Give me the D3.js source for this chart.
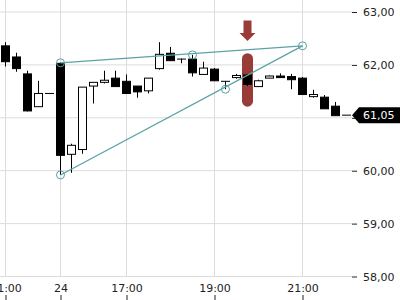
<!DOCTYPE html>
<html>
<head>
<meta charset="utf-8">
<script src="https://cdn.jsdelivr.net/npm/d3@7"></script>
<style>
  body { margin: 0; background: #fff; }
  svg { display: block; font-family: "DejaVu Sans", sans-serif; }
</style>
</head>
<body>
<div id="chart"></div>
<script>
// 15 minute candles, last hour of the 23rd then the session of the 24th
const opens  = [62.36, 62.15, 61.83, 61.21, 61.46, 62.03, 60.31, 60.40, 61.60, 61.67, 61.75, 61.69, 61.60, 61.51, 61.93, 62.22,
                62.11, 62.11, 61.82, 61.92, 61.69, 61.76, 61.81, 61.59, 61.75, 61.79, 61.78, 61.75, 61.40, 61.39, 61.22, 61.05];
const highs  = [62.43, 62.23, 61.89, 61.70, 61.46, 62.04, 60.51, 61.58, 61.67, 61.89, 61.89, 61.82, 61.60, 61.75, 62.43, 62.34,
                62.12, 62.19, 62.06, 61.94, 61.69, 61.83, 61.83, 61.72, 61.80, 61.84, 61.83, 61.77, 61.53, 61.43, 61.30, 61.05];
const lows   = [61.97, 61.87, 61.12, 61.21, 61.46, 59.92, 59.96, 60.32, 61.27, 61.65, 61.59, 61.46, 61.38, 61.46, 61.91, 62.08,
                62.03, 61.78, 61.82, 61.70, 61.54, 61.74, 61.60, 61.59, 61.75, 61.76, 61.54, 61.44, 61.38, 61.17, 61.04, 61.05];
const closes = [62.06, 61.93, 61.13, 61.46, 61.46, 60.29, 60.48, 61.58, 61.67, 61.71, 61.59, 61.46, 61.49, 61.75, 62.20, 62.08,
                62.10, 61.85, 61.94, 61.70, 61.69, 61.80, 61.63, 61.70, 61.79, 61.76, 61.72, 61.44, 61.44, 61.17, 61.04, 61.05];

const timeTicks  = [0, 5, 11, 19, 27];
const timeLabels = ["21:00", "24", "17:00", "19:00", "21:00"];
const priceTicks = [58, 59, 60, 61, 62, 63];
const lastPrice = 61.05;

// drawing tools: two trend lines and their anchor points (index, price)
const trendLines = [
  [[5, 62.04], [27, 62.36]],
  [[5, 59.92], [27, 62.36]]
];
const anchors = [[5, 62.04], [5, 59.92], [17, 62.19], [20, 61.54], [27, 62.36]];

// signal marker on one candle
const markerIdx = 22;
const markerRange = [62.22, 61.21];
const arrowRange = [62.84, 62.45];

const width = 400, height = 300;
const plotRight = 352, plotBottom = 277;

const svg = d3.select("#chart").append("svg")
    .attr("width", width)
    .attr("height", height);

const x = d3.scaleLinear().domain([0, 31]).range([5.5, 346.5]);
const y = d3.scaleLinear().domain([58, 63]).range([276.5, 12]);

const locale = d3.formatLocale({ decimal: ",", thousands: ".", grouping: [3], currency: ["", "€"] });
const fmt = locale.format(".2f");

// grid
svg.append("g").selectAll("line")
    .data(priceTicks)
    .join("line")
    .attr("x1", 0).attr("x2", plotRight)
    .attr("y1", d => y(d)).attr("y2", d => y(d))
    .attr("stroke", "#dcdcdc");

svg.append("g").selectAll("line")
    .data(timeTicks)
    .join("line")
    .attr("x1", d => x(d)).attr("x2", d => x(d))
    .attr("y1", 0).attr("y2", plotBottom)
    .attr("stroke", "#dcdcdc");

// signal marker (behind candles)
const mx = x(markerIdx);
svg.append("rect")
    .attr("x", mx - 5.5)
    .attr("y", y(markerRange[0]))
    .attr("width", 11)
    .attr("height", y(markerRange[1]) - y(markerRange[0]))
    .attr("rx", 5.5)
    .attr("fill", "#993b37");

const aTop = y(arrowRange[0]), aTip = y(arrowRange[1]);
svg.append("path")
    .attr("d", `M${mx - 4},${aTop} L${mx + 4},${aTop} L${mx + 4},${aTip - 8} L${mx + 8},${aTip - 8} L${mx},${aTip} L${mx - 8},${aTip - 8} L${mx - 4},${aTip - 8} Z`)
    .attr("fill", "#993b37");

// candles
const candles = svg.append("g").selectAll("g")
    .data(d3.range(opens.length))
    .join("g");

candles.append("line")
    .attr("x1", i => x(i)).attr("x2", i => x(i))
    .attr("y1", i => y(highs[i])).attr("y2", i => y(lows[i]))
    .attr("stroke", "#000");

candles.each(function (i) {
    const g = d3.select(this);
    const top = y(Math.max(opens[i], closes[i]));
    const bot = y(Math.min(opens[i], closes[i]));
    if (bot - top < 1) {
        g.append("line")
            .attr("x1", x(i) - 4.5).attr("x2", x(i) + 4.5)
            .attr("y1", top).attr("y2", top)
            .attr("stroke", "#000");
    } else {
        g.append("rect")
            .attr("x", x(i) - 4)
            .attr("y", top)
            .attr("width", 8)
            .attr("height", bot - top)
            .attr("fill", closes[i] < opens[i] ? "#000" : "#fff")
            .attr("stroke", "#000");
    }
});

// trend lines
svg.append("g").selectAll("line")
    .data(trendLines)
    .join("line")
    .attr("x1", d => x(d[0][0])).attr("y1", d => y(d[0][1]))
    .attr("x2", d => x(d[1][0])).attr("y2", d => y(d[1][1]))
    .attr("stroke", "#5ba2a6")
    .attr("stroke-width", 1.2);

svg.append("g").selectAll("circle")
    .data(anchors)
    .join("circle")
    .attr("cx", d => x(d[0]))
    .attr("cy", d => y(d[1]))
    .attr("r", 4)
    .attr("fill", "none")
    .attr("stroke", "#5ba2a6");

// price axis
const yAxis = d3.axisRight(y)
    .tickValues(priceTicks)
    .tickSize(5)
    .tickPadding(6)
    .tickFormat(fmt);

svg.append("g")
    .attr("transform", `translate(${plotRight},0)`)
    .call(yAxis)
    .call(g => g.select(".domain").remove())
    .call(g => g.selectAll("text").attr("font-size", 11).attr("fill", "#222").attr("font-family", "DejaVu Sans"))
    .call(g => g.selectAll("line").attr("stroke", "#222"));

// time axis
const xAxis = d3.axisTop(x)
    .tickValues(timeTicks)
    .tickSize(5)
    .tickPadding(3)
    .tickFormat((d, i) => timeLabels[i]);

svg.append("g")
    .attr("transform", `translate(0,${height})`)
    .call(xAxis)
    .call(g => g.select(".domain").remove())
    .call(g => g.selectAll("text").attr("font-size", 11).attr("fill", "#222").attr("font-family", "DejaVu Sans"))
    .call(g => g.selectAll("line").attr("stroke", "#222"));

// last price tag
const ly = y(lastPrice);
svg.append("path")
    .attr("d", `M${plotRight},${ly} L${plotRight + 7},${ly - 8} L${width},${ly - 8} L${width},${ly + 8} L${plotRight + 7},${ly + 8} Z`)
    .attr("fill", "#000");

svg.append("text")
    .attr("x", plotRight + 11)
    .attr("y", ly)
    .attr("dy", "0.35em")
    .attr("font-size", 11)
    .attr("fill", "#fff")
    .text(fmt(lastPrice));
</script>
</body>
</html>
